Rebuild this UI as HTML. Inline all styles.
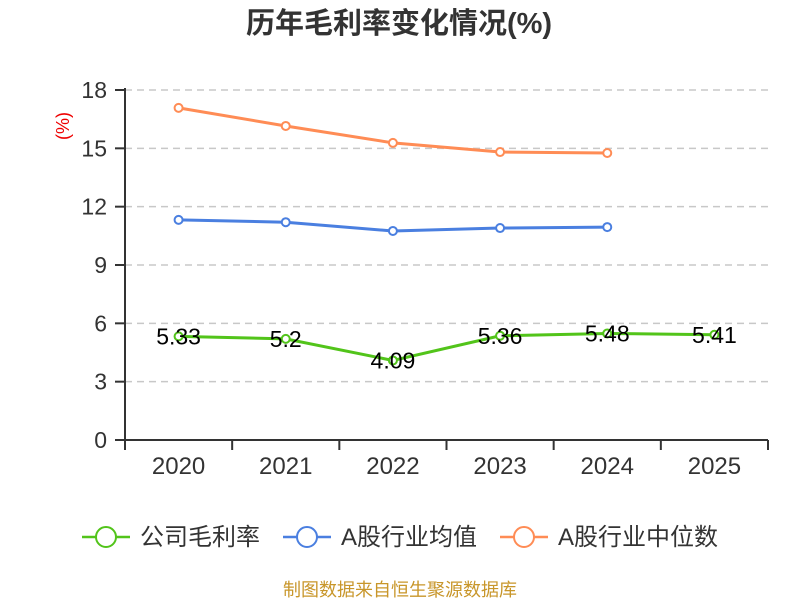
<!DOCTYPE html>
<html><head><meta charset="utf-8"><style>
body{margin:0;background:#fff;}
svg text{font-family:"Liberation Sans","Noto Sans CJK SC",sans-serif;}
</style></head><body>
<svg id="c" width="800" height="600">
<text x="399" y="33" text-anchor="middle" font-size="29" font-weight="bold" fill="#333">历年毛利率变化情况(%)</text>
<text transform="translate(69,126) rotate(-90)" text-anchor="middle" font-size="18" fill="#e00">(%)</text>
<g id="grid"></g><g id="axes"></g><g id="series"></g>
<g font-size="24" fill="#333">
<g><line x1="82" y1="537" x2="130" y2="537" stroke="#52c41a" stroke-width="2.5"/><circle cx="106" cy="537" r="10" fill="#fff" stroke="#52c41a" stroke-width="2"/><text x="140" y="545">公司毛利率</text></g>
<g><line x1="283" y1="537" x2="331" y2="537" stroke="#4a7fe0" stroke-width="2.5"/><circle cx="307" cy="537" r="10" fill="#fff" stroke="#4a7fe0" stroke-width="2"/><text x="341" y="545">A股行业均值</text></g>
<g><line x1="500" y1="537" x2="548" y2="537" stroke="#ff8c55" stroke-width="2.5"/><circle cx="524" cy="537" r="10" fill="#fff" stroke="#ff8c55" stroke-width="2"/><text x="558" y="545">A股行业中位数</text></g>
</g>
<text x="400" y="596" text-anchor="middle" font-size="18" fill="#c8962a">制图数据来自恒生聚源数据库</text>
</svg>
<script>
const categories=["2020","2021","2022","2023","2024","2025"];
const companyMargin=[5.33,5.2,4.09,5.36,5.48,5.41];
const industryAvg=[11.32,11.2,10.75,10.9,10.95];
const industryMedian=[17.08,16.15,15.28,14.81,14.76];
const yTicks=[0,3,6,9,12,15,18];
const NS="http://www.w3.org/2000/svg";
const x0=125,x1=768,yB=440,yT=90,yMax=18;
const bw=(x1-x0)/categories.length;
const X=i=>x0+bw*(i+0.5);
const Y=v=>yB-(v/yMax)*(yB-yT);
function mk(t,a,p){const e=document.createElementNS(NS,t);for(const k in a)e.setAttribute(k,a[k]);p.appendChild(e);return e;}
const grid=document.getElementById('grid'),axes=document.getElementById('axes'),ser=document.getElementById('series');
yTicks.forEach(v=>{
 if(v>0){const g=mk('line',{x1:x0,x2:x1,y1:Y(v),y2:Y(v),stroke:'#c8c8c8','stroke-dasharray':'7,5','stroke-width':1.5},grid);
 
 }
 const tk=mk('line',{x1:x0-10,x2:x0,y1:Y(v),y2:Y(v),stroke:'#333','stroke-width':2},axes);
 
 
 const t=mk('text',{x:x0-18,y:Y(v)+8,'text-anchor':'end','font-size':23,fill:'#333'},axes);t.textContent=v;
 
 
});
const ya=mk('line',{x1:x0,x2:x0,y1:yT-2,y2:yB,stroke:'#333','stroke-width':2},axes);


const xa=mk('line',{x1:x0,x2:x1,y1:yB,y2:yB,stroke:'#333','stroke-width':2},axes);


for(let i=0;i<=categories.length;i++){const l=mk('line',{x1:x0+bw*i,x2:x0+bw*i,y1:yB,y2:yB+10,stroke:'#333','stroke-width':2},axes);
 
 }
categories.forEach((c,i)=>{const t=mk('text',{x:X(i),y:474,'text-anchor':'middle','font-size':24,fill:'#333'},axes);t.textContent=c;
 
 });
function series(vals,color,name,labels){
 const g=mk('g',{},ser);
 
 
 const p=mk('polyline',{points:vals.map((v,i)=>X(i)+','+Y(v)).join(' '),fill:'none',stroke:color,'stroke-width':3},g);
 
 
 vals.forEach((v,i)=>{const c=mk('circle',{cx:X(i),cy:Y(v),r:4,fill:'#fff',stroke:color,'stroke-width':2},g);
  
  
  if(labels){const t=mk('text',{x:X(i),y:Y(v)+8,'text-anchor':'middle','font-size':23,fill:'#000'},g);t.textContent=v;
   
   }
 });
}
series(industryMedian,'#ff8c55','industry-median-series',false);
series(industryAvg,'#4a7fe0','industry-average-series',false);
series(companyMargin,'#52c41a','gross-margin-series',true);
</script>
</body></html>
